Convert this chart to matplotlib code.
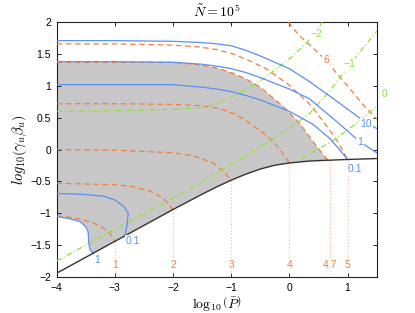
import matplotlib
matplotlib.use("Agg")
import matplotlib.pyplot as plt
import numpy as np


# lower boundary (black)
BOUND_X = [-4.0, -3.0, -2.0, -1.5, -1.25, -1.0, -0.75, -0.5, -0.25, 0.0, 0.34, 0.66, 1.0, 1.5]
BOUND_Y = [-1.94, -1.44, -0.94, -0.70, -0.585, -0.48, -0.385, -0.305, -0.245, -0.21, -0.18, -0.167, -0.155, -0.14]

# orange dashed contours (value -> points)
ORANGE_LEVELS = {
	"1": ([-4.0, -3.8, -3.6, -3.37, -3.2, -3.09, -3.0],
		[-1.04, -1.06, -1.09, -1.15, -1.23, -1.31, -1.44]),
	"2": ([-4.0, -3.5, -3.0, -2.7, -2.4, -2.17, -2.0],
		[-0.53, -0.54, -0.55, -0.58, -0.65, -0.76, -0.94]),
	"3": ([-4.0, -3.0, -2.0, -1.7, -1.54, -1.31, -1.14, -1.0],
		[0.0, -0.01, -0.05, -0.09, -0.13, -0.21, -0.34, -0.48]),
	"4": ([-4.0, -3.0, -2.0, -1.54, -1.3, -1.08, -0.9, -0.74, -0.46, -0.26, -0.11, 0.0],
		[0.72, 0.72, 0.71, 0.69, 0.66, 0.61, 0.54, 0.45, 0.27, 0.11, -0.07, -0.21]),
	"4.7": ([-4.0, -3.0, -2.0, -1.54, -1.25, -0.97, -0.75, -0.5, -0.11, 0.17, 0.46, 0.66],
		[1.37, 1.37, 1.37, 1.33, 1.28, 1.20, 1.11, 0.98, 0.68, 0.42, 0.06, -0.167]),
	"5": ([-4.0, -3.0, -2.0, -1.54, -1.25, -0.97, -0.7, -0.4, 0.0, 0.34, 0.6, 0.82, 1.0],
		[1.66, 1.66, 1.64, 1.61, 1.57, 1.50, 1.40, 1.27, 1.01, 0.72, 0.42, 0.14, -0.155]),
	"6": ([-0.02, 0.17, 0.4, 0.63, 0.8, 1.0, 1.26, 1.5],
		[2.0, 1.79, 1.60, 1.40, 1.21, 1.0, 0.71, 0.48]),
}
ORANGE_FOOT_X = [-3.0, -2.0, -1.0, 0.0, 0.7, 1.0]
ORANGE_FOOT_LABELS = ["1", "2", "3", "4", "4.7", "5"]

# blue solid contours
BLUE_LINES = [
	([-4.0, -3.0, -2.0, -1.5, -1.25, -1.0, -0.75, -0.5, 0.0, 0.34, 0.8, 1.2, 1.5],
		[1.71, 1.71, 1.70, 1.68, 1.66, 1.63, 1.56, 1.47, 1.27, 1.07, 0.77, 0.50, 0.33]),
	([-4.0, -3.0, -2.0, -1.5, -1.25, -1.0, -0.75, -0.5, 0.0, 0.34, 0.8, 1.2, 1.5],
		[1.38, 1.38, 1.37, 1.34, 1.31, 1.27, 1.21, 1.13, 0.95, 0.80, 0.45, 0.13, -0.05]),
	([-4.0, -3.0, -2.0, -1.5, -1.25, -1.0, -0.75, -0.5, 0.0, 0.4, 0.7, 0.86, 1.0],
		[1.02, 1.02, 1.02, 0.98, 0.95, 0.91, 0.85, 0.78, 0.60, 0.40, 0.17, 0.0, -0.155]),
	([-4.0, -3.6, -3.2, -3.0, -2.85, -2.77, -2.79, -2.83],
		[-0.69, -0.70, -0.73, -0.79, -0.89, -1.0, -1.18, -1.36]),
	([-4.0, -3.8, -3.6, -3.5, -3.46, -3.45, -3.43, -3.37],
		[-1.05, -1.08, -1.13, -1.21, -1.29, -1.45, -1.57, -1.63]),
]
BLUE_LABELS = [("10", 1.32, 0.40), ("1", 1.21, 0.12), ("0.1", 1.13, -0.31),
	("0.1", -2.69, -1.44), ("1", -3.3, -1.74)]

# green dash-dot contours
GREEN_LINES = [
	([-4.0, -3.0, -2.0, -1.5, -1.25, -1.0, -0.5, 0.0, 0.3, 0.57],
		[0.60, 0.61, 0.63, 0.66, 0.72, 0.82, 1.08, 1.42, 1.68, 2.0]),
	([-4.0, -3.0, -2.0, -1.5, -1.0, -0.5, 0.0, 0.34, 0.7, 1.03, 1.5],
		[-1.75, -1.25, -0.76, -0.50, -0.23, 0.04, 0.34, 0.56, 0.93, 1.32, 1.86]),
	([0.2, 0.45, 0.74, 1.0, 1.2, 1.5],
		[-0.15, -0.01, 0.13, 0.31, 0.45, 0.68]),
]
GREEN_LABELS = [("\u22122", 0.46, 1.82), ("\u22121", 1.04, 1.34), ("0", 1.63, 0.87)]

ORANGE = "#f47c3c"
BLUE = "#5b8ff2"
GREEN = "#8fe33a"
GRAY = "#c8c8c8"


def main():
	plt.rcParams["font.family"] = ["Liberation Sans", "DejaVu Sans"]
	plt.rcParams["mathtext.fontset"] = "cm"
	plt.rcParams["lines.scale_dashes"] = False

	fig = plt.figure(figsize=(4.15, 3.13), dpi=100)
	ax = fig.add_axes([0.1366, 0.115, 0.7711, 0.8141])

	# gray region
	edge_x, edge_y = ORANGE_LEVELS["4.7"]
	bx = np.array(BOUND_X)
	by = np.array(BOUND_Y)
	pocket_x, pocket_y = BLUE_LINES[4]
	mask = (bx < edge_x[-1]) & (bx > pocket_x[-1])
	poly_x = [-4.0] + list(edge_x) + list(bx[mask][::-1]) + list(pocket_x[::-1])
	poly_y = [pocket_y[0]] + list(edge_y) + list(by[mask][::-1]) + list(pocket_y[::-1])
	ax.fill(poly_x, poly_y, color=GRAY, lw=0, zorder=1)

	for name, (xs, ys) in ORANGE_LEVELS.items():
		ax.plot(xs, ys, color=ORANGE, lw=0.9, dashes=(4, 2.6), zorder=3)

	for fx, lab in zip(ORANGE_FOOT_X, ORANGE_FOOT_LABELS):
		fy = np.interp(fx, BOUND_X, BOUND_Y)
		ax.plot([fx, fx], [fy, -2.0], color=ORANGE, lw=0.6, alpha=0.7,
			dashes=(0.8, 1.6), zorder=2)
		ax.text(fx, -1.81, lab, color=ORANGE, fontsize=7.5, ha="center", va="center",
			bbox=dict(facecolor="white", edgecolor="none", pad=0.6), zorder=5)

	ax.text(0.63, 1.40, "6", color=ORANGE, fontsize=7.5, ha="center", va="center",
		bbox=dict(facecolor="white", edgecolor="none", pad=0.6), zorder=5)

	for xs, ys in BLUE_LINES:
		ax.plot(xs, ys, color=BLUE, lw=0.9, zorder=4)
	for lab, tx, ty in BLUE_LABELS:
		ax.text(tx, ty, lab, color=BLUE, fontsize=7.5, ha="center", va="center",
			bbox=dict(facecolor="white", edgecolor="none", pad=0.6), zorder=5)

	for xs, ys in GREEN_LINES:
		ax.plot(xs, ys, color=GREEN, lw=0.9, dashes=(4, 1.8, 0.8, 1.8), zorder=3)
	for lab, tx, ty in GREEN_LABELS:
		ax.text(tx, ty, lab, color=GREEN, fontsize=7.5, ha="center", va="center",
			bbox=dict(facecolor="white", edgecolor="none", pad=0.6), zorder=5,
			clip_on=False)

	ax.plot(BOUND_X, BOUND_Y, color="#333333", lw=1.0, zorder=4)

	ax.set_xlim(-4, 1.5)
	ax.set_ylim(-2, 2)
	ax.set_xticks([-4, -3, -2, -1, 0, 1])
	ax.set_yticks([-2, -1.5, -1, -0.5, 0, 0.5, 1, 1.5, 2])
	ax.set_yticklabels(["\u22122", "\u22121.5", "\u22121", "\u22120.5", "0", "0.5", "1", "1.5", "2"])
	ax.set_xticklabels(["\u22124", "\u22123", "\u22122", "\u22121", "0", "1"])
	ax.tick_params(direction="in", length=3, width=0.6, top=True, right=True,
		labelsize=7.5, pad=4)
	for spine in ax.spines.values():
		spine.set_linewidth(0.8)
		spine.set_color("#222222")

	ax.set_title(r"$\tilde{N} = 10^5$", fontsize=10, pad=4)
	ax.set_xlabel(r"$\log_{10}\left(\bar{P}\right)$", fontsize=10, labelpad=1)
	ax.set_ylabel(r"$log_{10}\left(\gamma_u\beta_u\right)$", fontsize=10.5, labelpad=1)

	fig.savefig("out.png", dpi=100)
	plt.close(fig)


if __name__ == "__main__":
	main()
